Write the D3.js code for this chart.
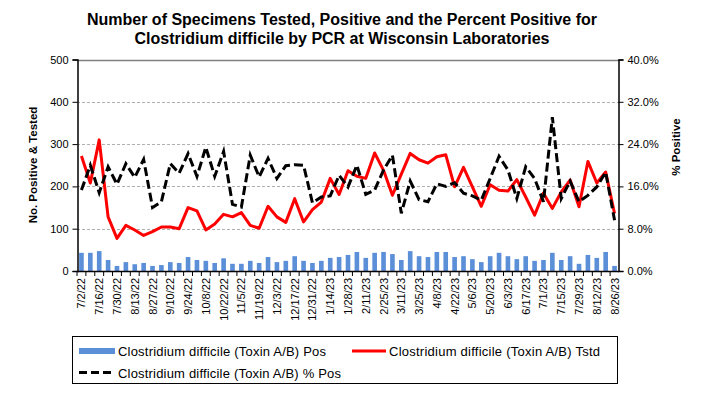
<!DOCTYPE html>
<html>
<head>
<meta charset="utf-8">
<script src="https://cdn.jsdelivr.net/npm/d3@7"></script>
<style>
    body { margin: 0; background: #fff; }
    svg text { font-family: "Liberation Sans", Arial, sans-serif; fill: #000; }
</style>
</head>
<body>
<svg id="chart" width="704" height="394"></svg>
<script>
var weeks = [
    '7/2/22', '7/9/22', '7/16/22', '7/23/22', '7/30/22', '8/6/22', '8/13/22', '8/20/22', '8/27/22',
    '9/3/22', '9/10/22', '9/17/22', '9/24/22', '10/1/22', '10/8/22', '10/15/22', '10/22/22', '10/29/22',
    '11/5/22', '11/12/22', '11/19/22', '11/26/22', '12/3/22', '12/10/22', '12/17/22', '12/24/22', '12/31/22',
    '1/7/23', '1/14/23', '1/21/23', '1/28/23', '2/4/23', '2/11/23', '2/18/23', '2/25/23',
    '3/4/23', '3/11/23', '3/18/23', '3/25/23', '4/1/23', '4/8/23', '4/15/23', '4/22/23', '4/29/23',
    '5/6/23', '5/13/23', '5/20/23', '5/27/23', '6/3/23', '6/10/23', '6/17/23', '6/24/23',
    '7/1/23', '7/8/23', '7/15/23', '7/22/23', '7/29/23', '8/5/23', '8/12/23', '8/19/23', '8/26/23'
];

// only every other week gets a label
var tickLabels = weeks.filter( function( d, i ) { return i % 2 === 0; } );

var positives = [
    43, 43, 47, 26, 12, 21, 16, 19, 12, 14, 21, 19, 33, 26, 24, 19, 30, 17, 17, 24,
    19, 33, 21, 24, 35, 24, 19, 24, 31, 33, 38, 45, 31, 43, 45, 40, 26, 47, 35, 33,
    45, 45, 33, 35, 28, 21, 35, 43, 35, 28, 35, 24, 26, 43, 26, 35, 17, 38, 31, 45, 12
];

var tested = [
    272, 208, 310, 128, 77, 108, 97, 84, 93, 104, 104, 100, 150, 142, 97, 111, 134, 128, 138, 108,
    101, 153, 128, 115, 171, 116, 145, 163, 219, 181, 237, 224, 219, 279, 238, 179, 229, 278, 263, 255,
    270, 275, 199, 245, 199, 153, 204, 191, 189, 216, 175, 132, 184, 148, 187, 215, 152, 259, 208, 234, 136
];

var pctPositive = [
    15.3, 20.0, 14.8, 19.7, 16.4, 20.3, 17.7, 21.1, 12.0, 13.1, 20.3, 18.5, 22.2, 17.9, 23.4, 17.9, 22.6, 12.6, 12.1, 21.9,
    17.8, 21.3, 17.5, 19.9, 20.1, 20.0, 12.9, 14.0, 14.2, 18.1, 15.9, 20.0, 14.5, 15.3, 19.1, 21.9, 10.9, 17.0, 13.5, 13.1,
    16.5, 16.0, 16.7, 14.7, 14.2, 13.4, 17.5, 21.7, 19.1, 13.7, 19.7, 17.5, 13.1, 29.1, 13.7, 17.0, 13.1, 14.3, 15.9, 18.7, 9.6
];

var leftTicks = [ 0, 100, 200, 300, 400, 500 ],
    rightTicks = [ 0, 8, 16, 24, 32, 40 ],
    seriesNames = [
        'Clostridium difficile (Toxin A/B) Pos',
        'Clostridium difficile (Toxin A/B) Tstd',
        'Clostridium difficile (Toxin A/B) % Pos'
    ];

var colors = { bar: '#5b8fd8', tested: '#ff0000', pct: '#000000' };

var svg = d3.select( '#chart' ),
    plot = { left: 77, right: 619, top: 59.5, bottom: 271 };

var x = d3.scaleBand()
        .domain( weeks )
        .range( [ plot.left, plot.right ] )
        .paddingInner( 0.48 )
        .paddingOuter( 0.24 ),
    xLine = function( i ) { return x( weeks[ i ] ) + x.bandwidth() / 2; },
    yLeft = d3.scaleLinear().domain( [ 0, 500 ] ).range( [ plot.bottom, plot.top ] ),
    yRight = d3.scaleLinear().domain( [ 0, 40 ] ).range( [ plot.bottom, plot.top ] );

// Title
svg.append( 'text' )
    .attr( 'x', 342 ).attr( 'y', 25 )
    .attr( 'text-anchor', 'middle' )
    .style( 'font-size', '16px' ).style( 'font-weight', 'bold' )
    .text( 'Number of Specimens Tested, Positive and the Percent Positive for' );

svg.append( 'text' )
    .attr( 'x', 342 ).attr( 'y', 44 )
    .attr( 'text-anchor', 'middle' )
    .style( 'font-size', '16px' ).style( 'font-weight', 'bold' )
    .text( 'Clostridium difficile  by PCR at Wisconsin Laboratories' );

// Gridlines
svg.append( 'g' )
    .selectAll( 'line' )
    .data( leftTicks.slice( 1 ) )
    .enter().append( 'line' )
    .attr( 'x1', plot.left ).attr( 'x2', plot.right )
    .attr( 'y1', function( d ) { return Math.round( yLeft( d ) ) + 0.5; } )
    .attr( 'y2', function( d ) { return Math.round( yLeft( d ) ) + 0.5; } )
    .attr( 'stroke', function( d ) { return d === 500 ? '#808080' : '#b0b0b0'; } )
    .attr( 'stroke-width', function( d ) { return d === 500 ? 1.5 : 1; } )
    .attr( 'stroke-dasharray', function( d ) { return d === 500 ? null : '3,2'; } );

// Bars - positives
svg.append( 'g' )
    .selectAll( 'rect' )
    .data( positives )
    .enter().append( 'rect' )
    .attr( 'x', function( d, i ) { return x( weeks[ i ] ); } )
    .attr( 'width', x.bandwidth() )
    .attr( 'y', function( d ) { return yLeft( d ); } )
    .attr( 'height', function( d ) { return plot.bottom - yLeft( d ); } )
    .attr( 'fill', colors.bar );

// Tested line
var testedLine = d3.line()
    .x( function( d, i ) { return xLine( i ); } )
    .y( function( d ) { return yLeft( d ); } );

svg.append( 'path' )
    .datum( tested )
    .attr( 'd', testedLine )
    .attr( 'fill', 'none' )
    .attr( 'stroke', colors.tested )
    .attr( 'stroke-width', 3 )
    .attr( 'stroke-linejoin', 'round' );

// Percent positive line (right axis)
var pctLine = d3.line()
    .x( function( d, i ) { return xLine( i ); } )
    .y( function( d ) { return yRight( d ); } );

svg.append( 'path' )
    .datum( pctPositive )
    .attr( 'd', pctLine )
    .attr( 'fill', 'none' )
    .attr( 'stroke', colors.pct )
    .attr( 'stroke-width', 3 )
    .attr( 'stroke-dasharray', '9,4' );

// Left axis
var leftAxis = svg.append( 'g' )
    .attr( 'transform', 'translate(' + ( plot.left + 0.5 ) + ',0)' )
    .call( d3.axisLeft( yLeft ).tickValues( leftTicks ).tickSize( 5 ).tickPadding( 4 ) );

leftAxis.select( '.domain' ).attr( 'stroke', '#000' ).attr( 'stroke-width', 1.5 );
leftAxis.selectAll( 'text' ).style( 'font-size', '11px' );

// Right axis
var rightAxis = svg.append( 'g' )
    .attr( 'transform', 'translate(' + ( plot.right - 0.5 ) + ',0)' )
    .call( d3.axisRight( yRight ).tickValues( rightTicks ).tickSize( 5 ).tickPadding( 4 )
        .tickFormat( function( d ) { return d.toFixed( 1 ) + '%'; } ) );

rightAxis.select( '.domain' ).attr( 'stroke', '#000' ).attr( 'stroke-width', 1.5 );
rightAxis.selectAll( 'text' ).style( 'font-size', '11px' );

// Bottom axis: ticks between weeks, labels every other week
var bottom = svg.append( 'g' );

bottom.append( 'line' )
    .attr( 'x1', plot.left ).attr( 'x2', plot.right )
    .attr( 'y1', plot.bottom + 0.5 ).attr( 'y2', plot.bottom + 0.5 )
    .attr( 'stroke', '#000' ).attr( 'stroke-width', 1.5 );

bottom.selectAll( 'line.tick' )
    .data( weeks )
    .enter().append( 'line' )
    .attr( 'class', 'tick' )
    .attr( 'x1', function( d ) { return x( d ) - x.step() * x.paddingInner() / 2; } )
    .attr( 'x2', function( d ) { return x( d ) - x.step() * x.paddingInner() / 2; } )
    .attr( 'y1', plot.bottom ).attr( 'y2', plot.bottom + 5 )
    .attr( 'stroke', '#000' );

bottom.selectAll( 'text' )
    .data( tickLabels )
    .enter().append( 'text' )
    .attr( 'transform', function( d ) {
        return 'translate(' + ( x( d ) + x.bandwidth() / 2 + 4 ) + ',' + ( plot.bottom + 7 ) + ') rotate(-90)';
    } )
    .attr( 'text-anchor', 'end' )
    .style( 'font-size', '11px' )
    .text( function( d ) { return d; } );

// Axis titles
svg.append( 'text' )
    .attr( 'transform', 'translate(37,165) rotate(-90)' )
    .attr( 'text-anchor', 'middle' )
    .style( 'font-size', '11.5px' ).style( 'font-weight', 'bold' )
    .text( 'No. Positive & Tested' );

svg.append( 'text' )
    .attr( 'transform', 'translate(680,147) rotate(-90)' )
    .attr( 'text-anchor', 'middle' )
    .style( 'font-size', '11.5px' ).style( 'font-weight', 'bold' )
    .text( '% Positive' );

// Legend
var legend = svg.append( 'g' );

legend.append( 'rect' )
    .attr( 'x', 72.5 ).attr( 'y', 336.5 )
    .attr( 'width', 545 ).attr( 'height', 47 )
    .attr( 'fill', '#fff' ).attr( 'stroke', '#000' );

legend.append( 'rect' )
    .attr( 'x', 79 ).attr( 'y', 348 )
    .attr( 'width', 36 ).attr( 'height', 6 )
    .attr( 'fill', colors.bar );

legend.append( 'line' )
    .attr( 'x1', 352 ).attr( 'x2', 386 )
    .attr( 'y1', 351 ).attr( 'y2', 351 )
    .attr( 'stroke', colors.tested ).attr( 'stroke-width', 3 );

legend.append( 'line' )
    .attr( 'x1', 79 ).attr( 'x2', 113 )
    .attr( 'y1', 372.5 ).attr( 'y2', 372.5 )
    .attr( 'stroke', colors.pct ).attr( 'stroke-width', 3 )
    .attr( 'stroke-dasharray', '8,4' );

[
    [ seriesNames[ 0 ], 118, 356, 208 ],
    [ seriesNames[ 1 ], 389, 356, 211 ],
    [ seriesNames[ 2 ], 118, 377.5, 223 ]
].forEach( function( d ) {
    legend.append( 'text' )
        .attr( 'x', d[ 1 ] ).attr( 'y', d[ 2 ] )
        .attr( 'textLength', d[ 3 ] )
        .attr( 'lengthAdjust', 'spacing' )
        .style( 'font-size', '13px' )
        .text( d[ 0 ] );
} );
</script>
</body>
</html>
